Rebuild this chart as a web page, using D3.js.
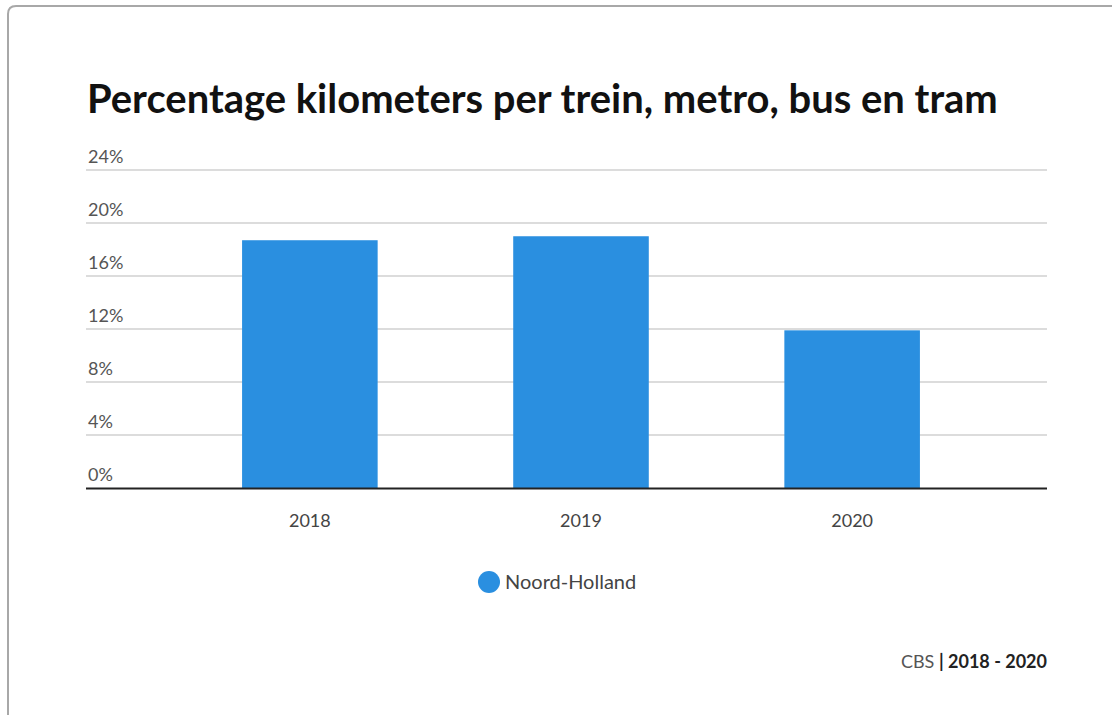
<!DOCTYPE html>
<html>
<head>
<meta charset="utf-8">
<script src="https://cdn.jsdelivr.net/npm/d3@7/dist/d3.min.js"></script>
<style>
  html, body { margin: 0; padding: 0; background: #fff; }
  svg { display: block; }
</style>
</head>
<body>
<div id="chart"></div>
<script>
var years = ["2018", "2019", "2020"];
var values = [18.7, 19.0, 11.9];
var yTicks = [0, 4, 8, 12, 16, 20, 24];
var seriesName = "Noord-Holland";
var titleText = "Percentage kilometers per trein, metro, bus en tram";

(function () {
  var width = 1112, height = 715;
  var fontFamily = "'Source Sans Pro', Lato, 'Noto Sans', sans-serif";

  var svg = d3.select("#chart").append("svg")
    .attr("width", width)
    .attr("height", height);

  // card outline (top-left corner visible, rest runs off the shot)
  svg.append("path")
    .attr("d", "M8,715 L8,14 Q8,6 16,6 L1112,6")
    .attr("fill", "none")
    .attr("stroke", "#a8a8a8")
    .attr("stroke-width", 2);

  var title = svg.append("text")
    .attr("x", 87)
    .attr("y", 113)
    .attr("font-family", fontFamily)
    .attr("font-size", 34)
    .attr("font-weight", 700)
    .attr("fill", "#111")
    .text(titleText);
  // squeeze to the reference width
  var tw = title.node().getComputedTextLength();
  if (tw > 0) title.attr("font-size", 34 * 911 / tw);

  var gridLeft = 86, gridRight = 1047;
  var plotTop = 170, plotBottom = 488;

  var x = d3.scaleBand()
    .domain(years)
    .range([116, 1046])
    .paddingInner(0.5)
    .paddingOuter(0.465);

  var y = d3.scaleLinear()
    .domain([0, 24])
    .range([plotBottom, plotTop]);

  svg.append("g")
    .selectAll("line")
    .data(yTicks.filter(function (t) { return t > 0; }))
    .join("line")
    .attr("x1", gridLeft)
    .attr("x2", gridRight)
    .attr("y1", function (t) { return y(t); })
    .attr("y2", function (t) { return y(t); })
    .attr("stroke", "#dcdcdc")
    .attr("stroke-width", 2);

  svg.append("g")
    .selectAll("text")
    .data(yTicks)
    .join("text")
    .attr("x", 88)
    .attr("y", function (t) { return y(t) - 7; })
    .attr("font-family", fontFamily)
    .attr("font-size", 18)
    .attr("fill", "#555")
    .text(function (t) { return t + "%"; });

  svg.append("g")
    .selectAll("rect")
    .data(values)
    .join("rect")
    .attr("x", function (d, i) { return x(years[i]); })
    .attr("y", function (d) { return y(d); })
    .attr("width", x.bandwidth())
    .attr("height", function (d) { return plotBottom - y(d); })
    .attr("fill", "#2a8fe0");

  svg.append("line")
    .attr("x1", gridLeft)
    .attr("x2", gridRight)
    .attr("y1", plotBottom + 0.5)
    .attr("y2", plotBottom + 0.5)
    .attr("stroke", "#222")
    .attr("stroke-width", 2);

  svg.append("g")
    .selectAll("text")
    .data(years)
    .join("text")
    .attr("x", function (d) { return x(d) + x.bandwidth() / 2; })
    .attr("y", 527)
    .attr("text-anchor", "middle")
    .attr("font-family", fontFamily)
    .attr("font-size", 18)
    .attr("fill", "#444")
    .text(function (d) { return d; });

  // legend
  var legend = svg.append("g");
  legend.append("circle")
    .attr("cx", 489)
    .attr("cy", 582)
    .attr("r", 11)
    .attr("fill", "#2a8fe0");
  legend.append("text")
    .attr("x", 505)
    .attr("y", 589)
    .attr("font-family", fontFamily)
    .attr("font-size", 20)
    .attr("fill", "#444")
    .text(seriesName);

  // source line
  var src = svg.append("text")
    .attr("x", 1047)
    .attr("y", 668)
    .attr("text-anchor", "end")
    .attr("font-family", fontFamily)
    .attr("font-size", 18);
  src.append("tspan").attr("fill", "#555").text("CBS ");
  src.append("tspan").attr("fill", "#222").attr("font-weight", 700).text("| 2018 - 2020");
}());
</script>
</body>
</html>
